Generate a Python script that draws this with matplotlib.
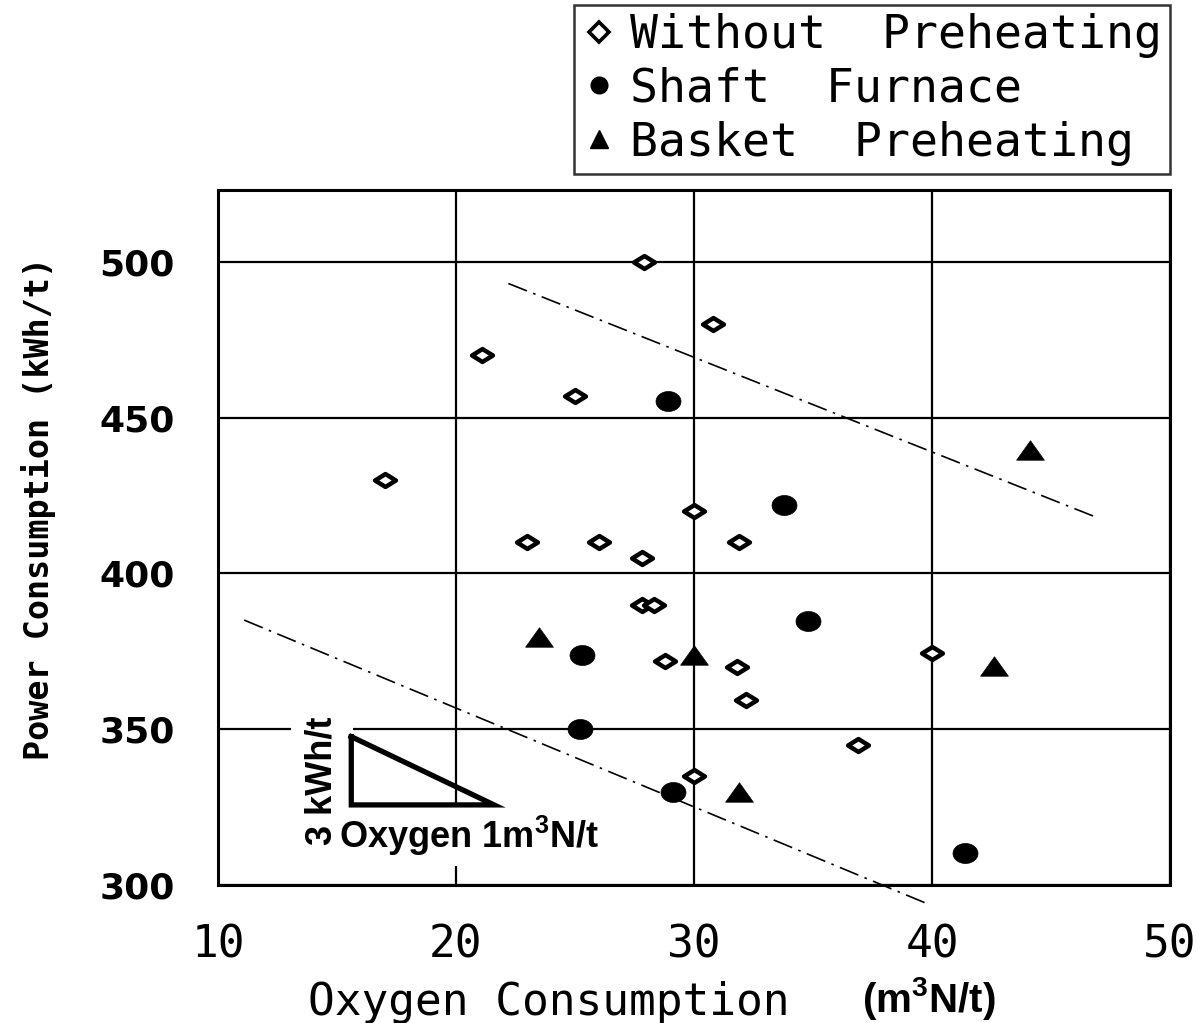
#!/usr/bin/python
# Power consumption vs oxygen consumption for three furnace types

import numpy as np
import matplotlib
matplotlib.use('Agg')
import matplotlib.pyplot as plt
from matplotlib.path import Path
from matplotlib.lines import Line2D

# bold Arial-like mathtext so the superscript 3 stays readable
plt.rcParams['mathtext.fontset'] = 'custom'
plt.rcParams['mathtext.rm'] = 'Liberation Sans:bold'
plt.rcParams['mathtext.bf'] = 'Liberation Sans:bold'

# Without preheating (open diamonds)
wop_x = [27.9, 30.8, 21.1, 25.0, 17.0, 30.0, 23.0, 26.0, 31.9, 27.8,
         27.8, 28.3, 28.8, 31.8, 32.2, 40.0, 36.9, 30.0]
wop_y = [500, 480, 470, 457, 430, 420, 410, 410, 410, 405,
         390, 390, 372, 370, 359.5, 374.5, 345, 335]

# Shaft furnace (filled circles)
shaft_x = [28.9, 33.8, 34.8, 25.3, 25.2, 29.1, 41.4]
shaft_y = [455.2, 421.8, 384.8, 373.7, 350, 330, 310.4]

# Basket preheating (filled triangles)
basket_x = [44.1, 23.5, 30.0, 42.6, 31.9]
basket_y = [439.5, 379.6, 373.7, 370.2, 330]

# Dash-dot guide lines
upper_x = [22.2, 46.9]
upper_y = [493, 418]
lower_x = [11.1, 39.8]
lower_y = [385, 294]

# Slope triangle (3 kWh/t per 1 m3N/t)
tri_x = [15.6, 15.6, 21.6, 15.6]
tri_y = [347.6, 325.7, 325.7, 347.6]

x_ticks = [10, 20, 30, 40, 50]
y_ticks = [300, 350, 400, 450, 500]

labels = ['Without  Preheating', 'Shaft  Furnace', 'Basket  Preheating']

# Flattened marker shapes (the original scan is stretched horizontally)
diamond = Path([(-1, 0), (0, 0.62), (1, 0), (0, -0.62), (-1, 0)],
               [Path.MOVETO, Path.LINETO, Path.LINETO, Path.LINETO, Path.CLOSEPOLY])
t = np.linspace(0, 2 * np.pi, 60)
ellipse = Path(np.column_stack([np.cos(t), 0.8 * np.sin(t)]), closed=True)
triangle = Path([(-1, -0.7), (1, -0.7), (0, 0.7), (-1, -0.7)],
                [Path.MOVETO, Path.LINETO, Path.LINETO, Path.CLOSEPOLY])

W, H = 1198, 1023
fig = plt.figure(figsize=(W / 100, H / 100), dpi=100)
ax = fig.add_axes([218 / W, 1 - 885 / H, (1170 - 218) / W, (885 - 190) / H])

ax.set_xlim(10, 50)
ax.set_ylim(300, 523)
ax.set_xticks(x_ticks)
ax.set_yticks(y_ticks)
ax.grid(True, color='black', linewidth=1.6)
ax.set_axisbelow(True)
for s in ax.spines.values():
    s.set_linewidth(2.2)

ax.tick_params(axis='both', length=0)
ax.tick_params(axis='y', pad=31)
ax.tick_params(axis='x', pad=28)
for lbl in ax.get_yticklabels():
    lbl.set_fontfamily('DejaVu Sans')
    lbl.set_fontweight('bold')
    lbl.set_fontsize(26)
for lbl in ax.get_xticklabels():
    lbl.set_fontfamily('DejaVu Sans Mono')
    lbl.set_fontsize(32)

# guide lines
dd = (12, 4, 1.5, 4)
ax.plot(upper_x, upper_y, color='black', linewidth=1.2, dashes=dd)
ax.plot(lower_x, lower_y, color='black', linewidth=1.2, dashes=dd, clip_on=False)

# data points
ax.plot(wop_x, wop_y, linestyle='none', marker=diamond, markersize=15,
        markerfacecolor='white', markeredgecolor='black', markeredgewidth=3.2, zorder=5)
ax.plot(shaft_x, shaft_y, linestyle='none', marker=ellipse, markersize=18,
        markerfacecolor='black', markeredgecolor='black', markeredgewidth=0.5, zorder=5)
ax.plot(basket_x, basket_y, linestyle='none', marker=triangle, markersize=20,
        markerfacecolor='black', markeredgecolor='black', markeredgewidth=0.5, zorder=5)

# slope annotation
ax.plot(tri_x, tri_y, color='black', linewidth=3.8, solid_joinstyle='miter', zorder=4)
ax.text(15.6 - 0.5, 333.5, '3 kWh/t', rotation=90, ha='right', va='center',
        family='Liberation Sans', fontweight='bold', fontsize=26,
        bbox=dict(facecolor='white', edgecolor='none', pad=10), zorder=3)
ax.text(15.1, 312.0, r'Oxygen 1m$^{3}$N/t', ha='left', va='baseline',
        family='Liberation Sans', fontweight='bold', fontsize=26,
        bbox=dict(facecolor='white', edgecolor='none', pad=6), zorder=3)

# axis labels
fig.text(39 / W, 1 - 508 / H, 'Power Consumption (kWh/t)', rotation=90,
         ha='center', va='center', family='DejaVu Sans Mono',
         fontweight='bold', fontsize=24)
fig.text(549 / W, 1 - 1002 / H, 'Oxygen Consumption', ha='center', va='center',
         family='DejaVu Sans Mono', fontsize=32)
fig.text(929 / W, 1 - 998 / H, r'(m$^{3}$N/t)', ha='center', va='center',
         family='Liberation Sans', fontweight='bold', fontsize=29,
         bbox=dict(facecolor='white', edgecolor='none', pad=4))

# legend
handles = [
    Line2D([], [], linestyle='none', marker='D', markersize=10.5,
           markerfacecolor='white', markeredgecolor='black', markeredgewidth=2.6),
    Line2D([], [], linestyle='none', marker='o', markersize=12,
           markerfacecolor='black', markeredgecolor='black'),
    Line2D([], [], linestyle='none', marker='^', markersize=13,
           markerfacecolor='black', markeredgecolor='black'),
]
leg = fig.legend(handles, labels, loc='upper right',
                 bbox_to_anchor=(1170 / W, 1 - 5 / H), borderaxespad=0,
                 prop={'family': 'DejaVu Sans Mono', 'size': 33.5},
                 frameon=True, fancybox=False, handlelength=0.73,
                 handletextpad=0.3, labelspacing=0.19, borderpad=0.17)
leg.get_frame().set_edgecolor('black')
leg.get_frame().set_linewidth(1.8)

fig.savefig('out.png', dpi=100)
